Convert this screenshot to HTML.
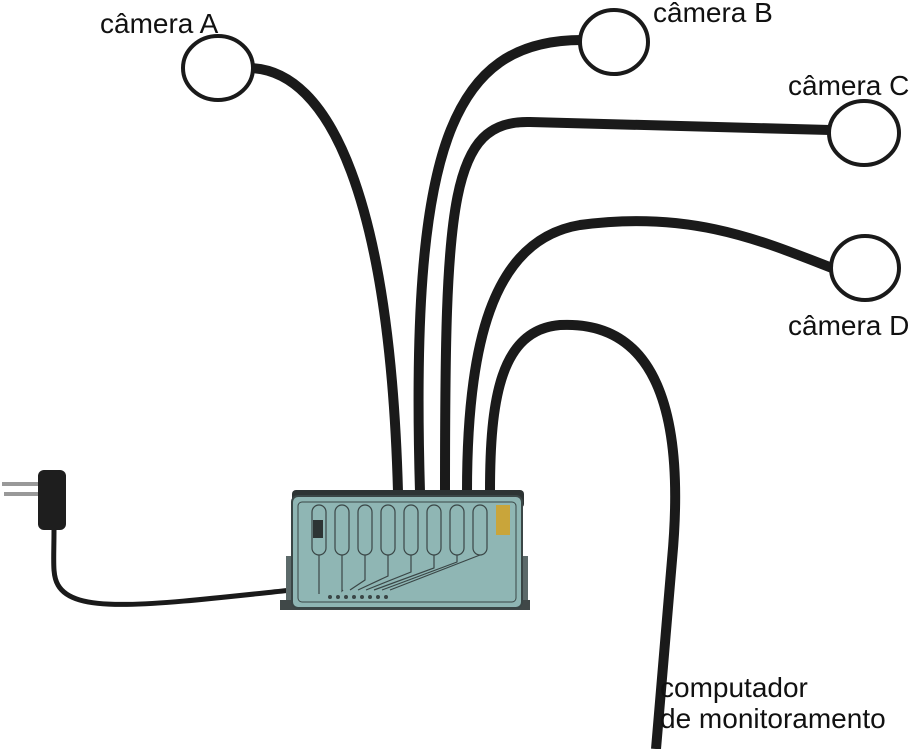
<!DOCTYPE html>
<html><head><style>
html,body{margin:0;padding:0;background:#fff;}
svg text{font-family:"Liberation Sans",sans-serif;font-size:28px;fill:#111;}
</style></head><body>
<svg width="914" height="749" viewBox="0 0 914 749" xmlns="http://www.w3.org/2000/svg">
<g fill="none" stroke="#1a1a1a" stroke-width="10" stroke-linecap="butt">
<path d="M250,68 C330,70 390,200 398,492"/>
<path d="M582,40 C450,40 410,150 420,492"/>
<path d="M830,130 L530,122 C450,120 445,200 445,492"/>
<path d="M832,268 C760,240 690,210 580,225 C490,240 467,350 467,492"/>
<path d="M490,492 C490,400 500,330 560,325 C660,320 685,420 672,560 L656,749"/>
<path d="M54,530 C54,560 52,575 58,585 C75,615 150,605 292,590" stroke-width="5"/>
</g>
<g fill="#fff" stroke="#1a1a1a" stroke-width="4">
<ellipse cx="218" cy="68" rx="35" ry="32"/>
<ellipse cx="614" cy="42" rx="34" ry="32"/>
<ellipse cx="864" cy="133" rx="35" ry="32"/>
<ellipse cx="865" cy="268" rx="34" ry="32"/>
</g>
<rect x="38" y="470" width="28" height="60" rx="6" fill="#1e1e1e"/>
<rect x="2" y="482" width="36" height="4" fill="#999"/>
<rect x="4" y="492" width="34" height="4" fill="#999"/>
<rect x="286" y="556" width="18" height="50" fill="#5c6a6a"/>
<rect x="510" y="556" width="18" height="50" fill="#5c6a6a"/>
<rect x="280" y="600" width="250" height="10" fill="#404848"/>
<rect x="292" y="490" width="232" height="18" rx="4" fill="#2d3434"/>
<rect x="292" y="496" width="230" height="112" rx="6" fill="#8fb6b4" stroke="#3a4646" stroke-width="2"/>
<rect x="298" y="502" width="218" height="100" rx="4" fill="none" stroke="#3a4646" stroke-width="1"/>
<g fill="none" stroke="#3a4646" stroke-width="1.2">
<rect x="312" y="505" width="14" height="50" rx="7"/>
<rect x="335" y="505" width="14" height="50" rx="7"/>
<rect x="358" y="505" width="14" height="50" rx="7"/>
<rect x="381" y="505" width="14" height="50" rx="7"/>
<rect x="404" y="505" width="14" height="50" rx="7"/>
<rect x="427" y="505" width="14" height="50" rx="7"/>
<rect x="450" y="505" width="14" height="50" rx="7"/>
<rect x="473" y="505" width="14" height="50" rx="7"/>
<path d="M319,555 V594 M342,555 V591 L343,590 M365,555 V580 L350,590 M388,555 V576 L358,590 M411,555 V572 L366,590 M434,555 V568 L374,590 M457,555 V562 L382,590 M480,555 L390,590"/>
</g>
<g fill="#3a4646"><circle cx="330" cy="597" r="2"/><circle cx="338" cy="597" r="2"/><circle cx="346" cy="597" r="2"/><circle cx="354" cy="597" r="2"/><circle cx="362" cy="597" r="2"/><circle cx="370" cy="597" r="2"/><circle cx="378" cy="597" r="2"/><circle cx="386" cy="597" r="2"/></g>
<rect x="313" y="520" width="10" height="18" fill="#2d3434"/>
<rect x="496" y="505" width="14" height="30" fill="#c9a53a"/>
<text x="100" y="33">câmera A</text>
<text x="653" y="22">câmera B</text>
<text x="788" y="95">câmera C</text>
<text x="788" y="335">câmera D</text>
<text x="660" y="697">computador</text>
<text x="660" y="728">de monitoramento</text>
</svg>
</body></html>
